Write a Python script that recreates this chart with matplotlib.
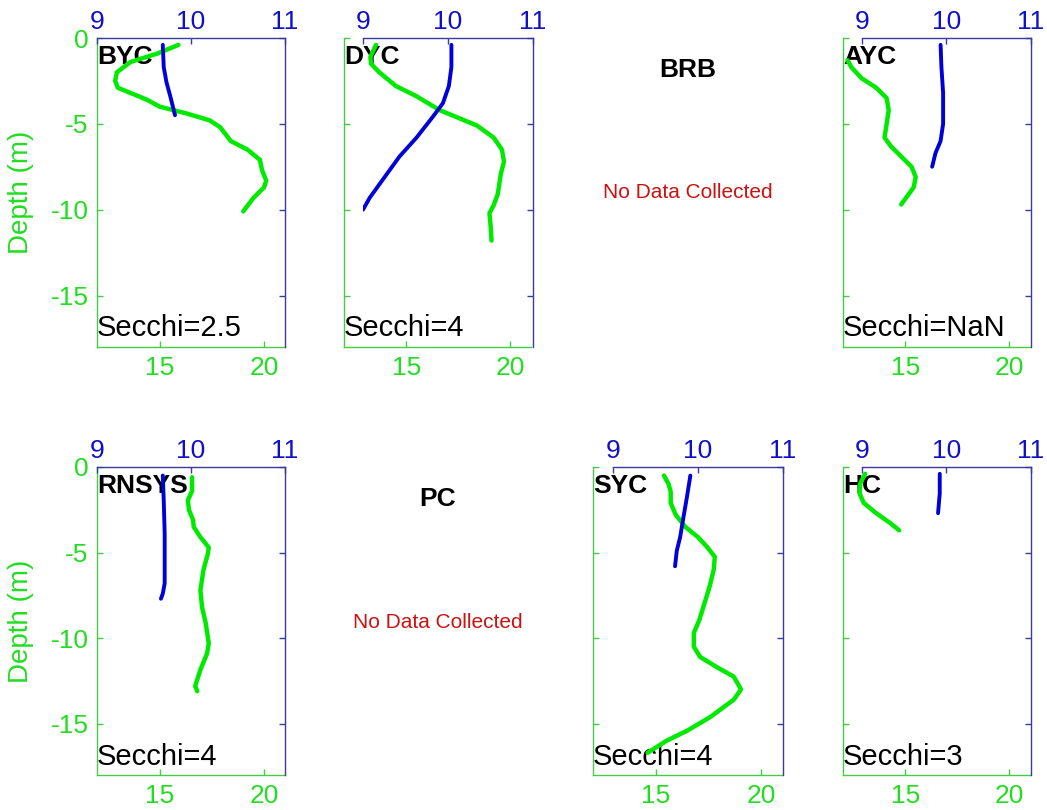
import matplotlib
matplotlib.use('Agg')
import matplotlib.pyplot as plt
import numpy as np

plt.rcParams['font.family'] = ['Liberation Sans', 'DejaVu Sans']
plt.rcParams['axes.unicode_minus'] = False

# ---------------- data (depth in m, negative downward) ----------------
# green profiles (bottom axis, 12-21)
byc_gz = [-0.4, -0.9, -1.4, -2.0, -2.5, -2.9, -3.2, -3.6, -4.0, -4.4, -4.8, -5.2, -6.0, -6.5, -7.1, -7.7, -8.3, -8.7, -9.3, -10.1]
byc_g = [15.9, 14.9, 13.6, 12.95, 12.87, 13.0, 13.6, 14.4, 15.0, 16.3, 17.4, 17.9, 18.4, 19.2, 19.8, 19.9, 20.1, 20.0, 19.5, 19.0]
dyc_gz = [-0.4, -1.1, -1.5, -2.0, -2.8, -3.4, -4.2, -4.6, -5.1, -5.8, -6.5, -7.2, -7.9, -9.1, -9.75, -10.2, -11.0, -11.8]
dyc_g = [13.54, 13.27, 13.3, 13.7, 14.5, 15.5, 16.6, 17.4, 18.4, 19.2, 19.6, 19.7, 19.55, 19.4, 19.2, 19.0, 19.06, 19.1]
ayc_gz = [-1.3, -1.7, -2.35, -2.9, -3.5, -4.2, -5.0, -5.8, -6.3, -6.9, -7.5, -8.1, -8.7, -9.2, -9.7]
ayc_g = [12.22, 12.4, 12.9, 13.6, 14.1, 14.2, 14.1, 14.0, 14.3, 14.8, 15.3, 15.5, 15.4, 15.1, 14.8]
rnsys_gz = [-0.6, -1.4, -1.95, -2.5, -3.1, -3.5, -4.1, -4.7, -5.1, -6.0, -7.2, -8.2, -9.1, -10.3, -10.9, -11.85, -12.8, -13.1]
rnsys_g = [16.55, 16.55, 16.35, 16.4, 16.6, 16.63, 16.95, 17.35, 17.3, 17.1, 16.95, 17.03, 17.2, 17.35, 17.27, 16.95, 16.7, 16.8]
syc_gz = [-0.5, -1.0, -1.45, -2.1, -2.8, -3.5, -4.1, -4.7, -5.25, -6.0, -7.0, -8.0, -8.95, -9.7, -10.5, -11.1, -11.7, -12.25, -13.0, -13.6, -14.6, -15.4, -16.0, -16.7]
syc_g = [15.38, 15.6, 15.7, 15.7, 15.94, 16.4, 17.0, 17.45, 17.8, 17.75, 17.55, 17.3, 17.06, 16.8, 16.8, 17.1, 17.9, 18.7, 19.05, 18.7, 17.6, 16.5, 15.5, 14.6]
hc_gz = [-0.4, -0.95, -1.55, -2.1, -2.7, -3.3, -3.7]
hc_g = [13.07, 12.83, 12.8, 13.0, 13.6, 14.3, 14.7]

# blue profiles (top axis, 9-11)
byc_bz = [-0.4, -1.7, -2.6, -3.4, -4.5]
byc_b = [9.70, 9.71, 9.74, 9.78, 9.83]
dyc_bz = [-0.4, -1.7, -2.8, -3.8, -4.6, -5.8, -6.9, -8.2, -9.3, -10.0]
dyc_b = [10.04, 10.04, 10.01, 9.94, 9.82, 9.63, 9.43, 9.24, 9.08, 9.0]
ayc_bz = [-0.4, -1.7, -3.2, -5.0, -6.0, -6.7, -7.5]
ayc_b = [9.93, 9.94, 9.96, 9.96, 9.93, 9.87, 9.83]
rnsys_bz = [-0.5, -1.95, -3.9, -5.8, -6.8, -7.4, -7.7]
rnsys_b = [9.70, 9.71, 9.72, 9.72, 9.72, 9.70, 9.68]
syc_bz = [-0.5, -1.75, -2.9, -4.1, -4.9, -5.8]
syc_b = [9.91, 9.87, 9.83, 9.79, 9.75, 9.73]
hc_bz = [-0.4, -1.55, -2.7]
hc_b = [9.92, 9.92, 9.90]

stations = ['BYC', 'DYC', 'BRB', 'AYC', 'RNSYS', 'PC', 'SYC', 'HC']
secchi = ['2.5', '4', None, 'NaN', '4', None, '4', '3']
green_data = [(byc_g, byc_gz), (dyc_g, dyc_gz), None, (ayc_g, ayc_gz),
              (rnsys_g, rnsys_gz), None, (syc_g, syc_gz), (hc_g, hc_gz)]
blue_data = [(byc_b, byc_bz), (dyc_b, dyc_bz), None, (ayc_b, ayc_bz),
             (rnsys_b, rnsys_bz), None, (syc_b, syc_bz), (hc_b, hc_bz)]

green_ticks = [15, 20]
blue_ticks = [9, 10, 11]
depth_ticks = [-15, -10, -5, 0]

# ---------------- layout ----------------
W, H = 1047, 810
GREEN = '#00ea00'
GTXT = '#22dd22'
GSPN = '#44cc44'
BLUE = '#0000d8'
BTXT = '#1010c8'
BSPN = '#3a3aa0'

fig = plt.figure(figsize=(W / 100, H / 100), dpi=100)
fig.patch.set_facecolor('white')

def fr(l, t, r, b):
    return [l / W, 1 - b / H, (r - l) / W, (b - t) / H]

g_left = [97, 344, 593, 843]
g_right = [285, 531, 782, 1030]
b_left = [97, 363, 613, 862]
b_right = [285, 533, 783, 1031]
rows = [(38, 347), (467, 775)]

for i, name in enumerate(stations):
    r, c = divmod(i, 4)
    top, bot = rows[r]
    if green_data[i] is None:
        cx = (g_left[c] + g_right[c]) / 2
        fig.text(cx / W, 1 - (top + 32) / H, name, fontsize=19, fontweight='bold',
                 ha='center', va='center', color='black')
        fig.text(cx / W, 1 - (top + 155) / H, 'No Data Collected', fontsize=15,
                 ha='center', va='center', color='#cc1111')
        continue

    axg = fig.add_axes(fr(g_left[c], top, g_right[c], bot))
    axg.set_xlim(12, 21)
    axg.set_ylim(-18, 0)
    gx, gz = green_data[i]
    axg.plot(gx, gz, color=GREEN, lw=3.2, solid_capstyle='round', zorder=3)
    for s in ['top', 'right']:
        axg.spines[s].set_visible(False)
    for s in ['left', 'bottom']:
        axg.spines[s].set_color(GSPN)
        axg.spines[s].set_linewidth(1.0)
    axg.set_xticks(green_ticks)
    axg.set_xticklabels([str(t) for t in green_ticks])
    axg.set_yticks(depth_ticks)
    axg.tick_params(axis='both', direction='in', length=4, width=1, color=GSPN,
                    labelcolor=GTXT, labelsize=19)
    axg.tick_params(axis='x', pad=6.5)
    axg.tick_params(axis='y', pad=6)
    if c == 0:
        axg.set_yticklabels([str(t) for t in depth_ticks])
        axg.set_ylabel('Depth (m)', fontsize=20, color=GTXT)
        axg.yaxis.set_label_coords(-0.335, 0.5)
    else:
        axg.set_yticklabels([])
    axg.text(0.0, 0.9385, name, transform=axg.transAxes, fontsize=19,
             fontweight='bold', ha='left', va='center', color='black', zorder=1)
    axg.text(0.0, 0.06, 'Secchi=' + secchi[i], transform=axg.transAxes,
             fontsize=21, ha='left', va='center', color='black', zorder=1)

    axb = fig.add_axes(fr(b_left[c], top, b_right[c], bot), facecolor='none')
    axb.set_xlim(9, 11)
    axb.set_ylim(-18, 0)
    bx, bz = blue_data[i]
    axb.plot(bx, bz, color=BLUE, lw=2.8, solid_capstyle='round', zorder=3)
    for s in ['left', 'bottom']:
        axb.spines[s].set_visible(False)
    for s in ['top', 'right']:
        axb.spines[s].set_color(BSPN)
        axb.spines[s].set_linewidth(1.0)
    axb.xaxis.tick_top()
    axb.yaxis.tick_right()
    axb.set_xticks(blue_ticks)
    axb.set_xticklabels([str(t) for t in blue_ticks])
    axb.set_yticks(depth_ticks)
    axb.set_yticklabels([])
    axb.tick_params(axis='both', direction='in', length=4, width=1, color=BSPN,
                    labelcolor=BTXT, labelsize=19)
    axb.tick_params(axis='x', pad=3)

fig.savefig('out.png', dpi=100, facecolor='white')
